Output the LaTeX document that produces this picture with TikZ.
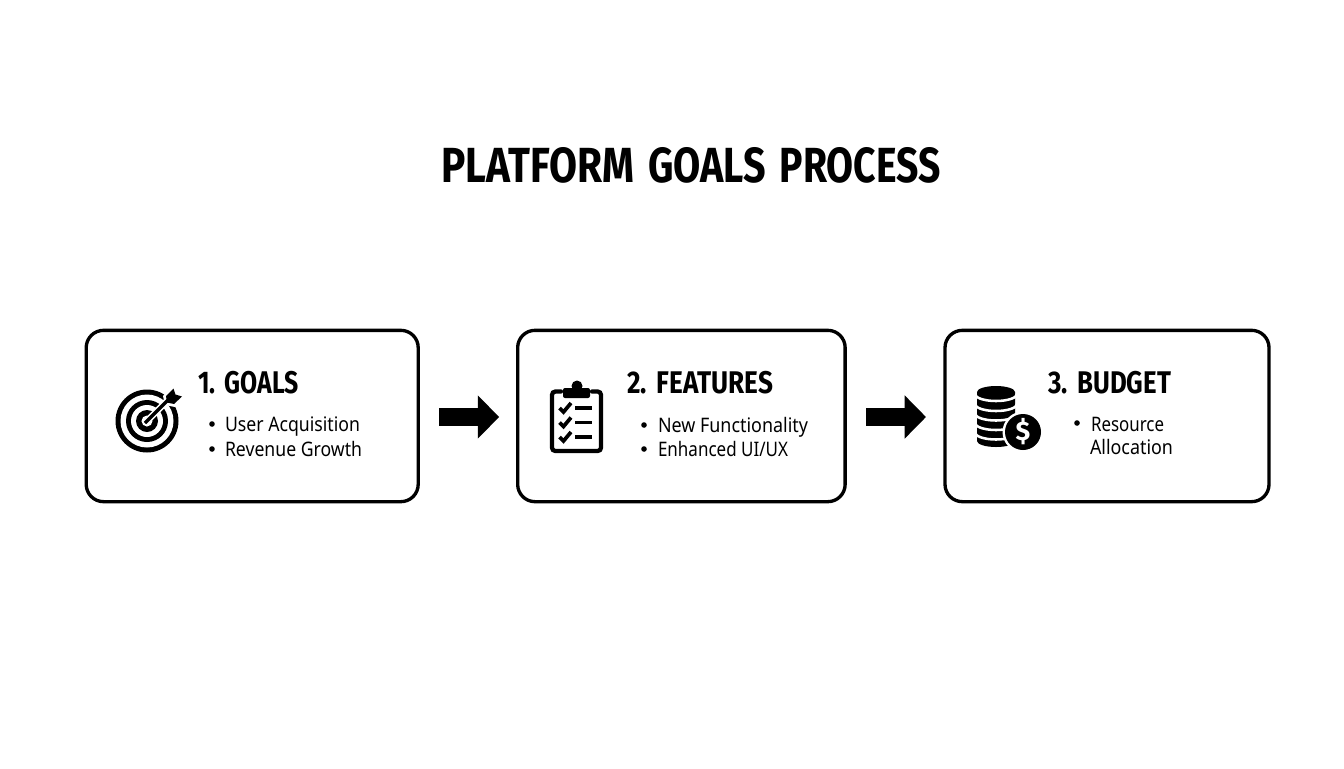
\documentclass[tikz,border=0pt]{standalone}
\usepackage{fontspec}
\usepackage{graphicx}
\usetikzlibrary{arrows.meta}
\newfontfamily\headfont{Fira Sans}[BoldFont={Fira Sans Bold}]
\newfontfamily\bodyfont{Noto Sans}
\newsavebox{\fitbox}
\newcommand{\fitw}[2]{\sbox{\fitbox}{#2}\pgfmathsetmacro{\fitr}{#1*0.75pt/\wd\fitbox}\scalebox{\fitr}[1]{\usebox{\fitbox}}}
\tikzset{
  x=0.75pt,y=-0.75pt,
  card/.style={draw=black,fill=white,line width=2.5pt,rounded corners=13pt,outer sep=0pt,inner sep=0pt,minimum height=128.5pt},
  blockarrow/.style={draw=black,line width=13pt,-{Triangle[length=16pt,width=31.5pt]}},
  txt/.style={anchor=base west,inner sep=0pt,outer sep=0pt,text=black},
  titletxt/.style={txt,font=\headfont\bfseries\fontsize{37}{37}\selectfont},
  headtxt/.style={txt,font=\headfont\bfseries\fontsize{23.5}{24}\selectfont},
  bodytxt/.style={txt,font=\bodyfont\fontsize{15}{16}\selectfont},
  bulletdot/.style={circle,fill=black,inner sep=0pt,minimum size=4.2pt},
}
\begin{document}
\begin{tikzpicture}
\useasboundingbox (0,0) rectangle (1344,768);
\fill[white] (0,0) rectangle (1344,768);
\node[titletxt] (title) at (441.5,182) {\fitw{193}{PLATFORM}\hspace{10.2pt}\fitw{118}{GOALS}\hspace{10.2pt}\fitw{161}{PROCESS}};
% cards
\node[card,minimum width=249pt] (card1) at (252.2,416) {};
\node[card,minimum width=245.6pt] (card2) at (681.4,416) {};
\node[card,minimum width=243pt] (card3) at (1107,416) {};
% arrows
\draw[blockarrow,shorten <=15.75pt,shorten >=13.9pt] ([yshift=-0.75pt]card1.east) -- ([yshift=-0.75pt]card2.west);
\draw[blockarrow,shorten <=15.7pt,shorten >=14.25pt] ([yshift=-0.75pt]card2.east) -- ([yshift=-0.75pt]card3.west);
% card 1 text
\node[headtxt] (h1) at (198,393) {\fitw{101}{1.\hspace{1.5pt} GOALS}};
\node[bulletdot] (b11) at (212,424) {};
\node[bodytxt] (t11) at (225,431) {\fitw{135}{User Acquisition}};
\node[bulletdot] (b12) at (212,449) {};
\node[bodytxt] (t12) at (225,456) {\fitw{137}{Revenue Growth}};
% card 2 text
\node[headtxt] (h2) at (627,393) {\fitw{146}{2.\hspace{1.5pt} FEATURES}};
\node[bulletdot] (b21) at (644,425) {};
\node[bodytxt] (t21) at (658,432) {\fitw{150}{New Functionality}};
\node[bulletdot] (b22) at (644,449) {};
\node[bodytxt] (t22) at (658,456) {\fitw{130}{Enhanced UI/UX}};
% card 3 text
\node[headtxt] (h3) at (1048,393) {\fitw{123}{3.\hspace{1.5pt} BUDGET}};
\node[bulletdot] (b31) at (1077,423) {};
\node[bodytxt] (t31) at (1091,431) {\fitw{73}{Resource}};
\node[bodytxt] (t32) at (1090,454) {\fitw{83}{Allocation}};
% target icon
\fill[black] (147,421) circle (31.5);
\fill[white] (147,421) circle (26.5);
\fill[black] (147,421) circle (21);
\fill[white] (147,421) circle (16);
\fill[black] (147,421) circle (11);
\fill[white] (147,421) circle (5.5);
\draw[white,line width=5pt] (144,424) -- (171,397);
\fill[white] (163,396) -- (173.5,385) -- (177,392) -- (185,396) -- (175,407) -- (165,405) -- cycle;
\draw[black,line width=2.4pt] (145,423) -- (171,397);
\fill[black] (166,396) -- (173.5,388.5) -- (175.5,394.5) -- (182,396.5) -- (174,404) -- (167,402.5) -- cycle;
% clipboard icon
\draw[black,line width=3.2pt,line cap=round,rounded corners=2.5pt] (561,391.5) -- (552,391.5) -- (552,451) -- (601,451) -- (601,391.5) -- (592,391.5);
\fill[black,rounded corners=1.5pt] (563,388) rectangle (590,398);
\fill[black] (577,386) circle (5.5);
\foreach \cy in {408,422.5,437}{
  \draw[black,line width=2.8pt] (559.5,\cy) -- (563.5,\cy+4) -- (571,\cy-5);
  \draw[black,line width=2.8pt] (575,\cy) -- (592,\cy);
}
% coins icon
\fill[black] (977,392) -- (977,441) arc[start angle=180,end angle=360,x radius=14.25pt,y radius=4.5pt] -- (1015,392) arc[start angle=0,end angle=180,x radius=14.25pt,y radius=4.5pt] -- cycle;
\foreach \cy in {393,403,412.5,422,431.5}{
  \draw[white,line width=1.9pt] (975,\cy+1) arc[start angle=180,end angle=360,x radius=15.75pt,y radius=5.25pt];
}
\fill[white] (1023,432) circle (20.5);
\fill[black] (1023,432) circle (18);
\node[txt,anchor=center,text=white,font=\headfont\bfseries\fontsize{20}{20}\selectfont] (dollar) at (1023,432) {\$};
\end{tikzpicture}
\end{document}
